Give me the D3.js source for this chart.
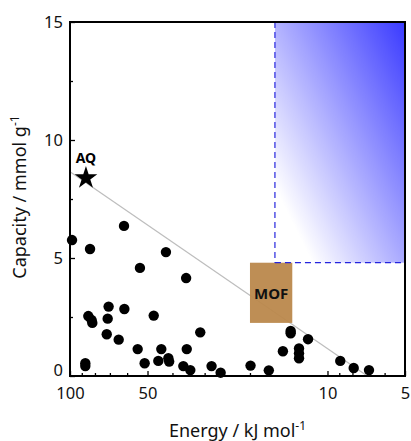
<!DOCTYPE html>
<html><head><meta charset="utf-8">
<script src="https://cdn.jsdelivr.net/npm/d3@7"></script>
<style>body{margin:0;background:#fff}svg{display:block}text{font-family:"Noto Sans",sans-serif}</style>
</head><body>
<svg id="c" width="411" height="441"></svg>
<script>
const energy = [98.2,83.6,61.7,42.4,53.5,35.4,84.9,82.4,81.9,70.8,71.4,61.5,47.3,72.0,64.7,54.6,44.2,35.2,31.2,87.2,87.2,51.3,45.4,41.5,41.2,36.3,34.1,28.2,26.0,13.9,13.9,11.9,14.9,12.9,12.9,12.9,19.9,16.9,8.92,7.91,6.90];
const capacity = [5.76,5.38,6.36,5.25,4.58,4.15,2.54,2.37,2.25,2.94,2.43,2.84,2.56,1.77,1.54,1.14,1.14,1.14,1.85,0.54,0.42,0.54,0.64,0.75,0.61,0.42,0.25,0.42,0.14,1.91,1.81,1.56,1.05,1.17,0.96,0.75,0.44,0.24,0.64,0.34,0.25];
const aq = {energy: 86.7, capacity: 8.39, label: "AQ"};
const trendE = [100, 7.0];
const trendC = [8.65, 0];
const mofE = [20, 13.7];
const mofC = [2.25, 4.8];
const targetE = [16, 5];
const targetC = [4.8, 15];
const xTicks = [100, 50, 10, 5];
const xMinor = [90, 80, 70, 60, 40, 30, 20, 9, 8, 7, 6];
const yTicks = [0, 5, 10, 15];
const yMinor = [2.5, 7.5, 12.5];

const svg = d3.select("#c");
const L = 70, R = 405, T = 22, B = 376;
const x = d3.scaleLog().domain([100, 5]).range([L, R]);
const y = d3.scaleLinear().domain([0, 15]).range([B, T]);

// target region gradient (diagonal, more horizontal than vertical)
const gx0 = x(targetE[0]), gy0 = y(targetC[0]);
const gx1 = x(targetE[1]), gy1 = y(targetC[1]);
const ux = 2 / Math.sqrt(5), uy = -1 / Math.sqrt(5);
const proj = (gx1 - gx0) * ux + (gy1 - gy0) * uy;
const defs = svg.append("defs");
const g = defs.append("linearGradient").attr("id", "grad").attr("gradientUnits", "userSpaceOnUse")
  .attr("x1", gx0).attr("y1", gy0).attr("x2", gx0 + proj * ux).attr("y2", gy0 + proj * uy);
g.append("stop").attr("offset", 0.15).attr("stop-color", "#ffffff");
g.append("stop").attr("offset", 1).attr("stop-color", "#3a3aff");

svg.append("rect").attr("x", gx0).attr("y", gy1)
  .attr("width", gx1 - gx0).attr("height", gy0 - gy1)
  .attr("fill", "url(#grad)");

// trend line
svg.append("line").attr("x1", x(trendE[0])).attr("y1", y(trendC[0]))
  .attr("x2", x(trendE[1])).attr("y2", y(trendC[1]))
  .attr("stroke", "#bdbdbd").attr("stroke-width", 1.2);

// MOF box
svg.append("rect").attr("x", x(mofE[0])).attr("y", y(mofC[1]))
  .attr("width", x(mofE[1]) - x(mofE[0])).attr("height", y(mofC[0]) - y(mofC[1]))
  .attr("fill", "#bb884c").attr("fill-opacity", 0.95);
svg.append("text").attr("x", (x(mofE[0]) + x(mofE[1])) / 2).attr("y", (y(mofC[0]) + y(mofC[1])) / 2)
  .attr("text-anchor", "middle").attr("dominant-baseline", "central")
  .attr("font-size", 15).attr("font-weight", "bold").attr("fill", "#111").text("MOF");

// dashed lines
svg.append("line").attr("x1", gx0).attr("y1", gy1).attr("x2", gx0).attr("y2", gy0)
  .attr("stroke", "#2525dd").attr("stroke-width", 1.2).attr("stroke-dasharray", "6,4");
svg.append("line").attr("x1", gx0).attr("y1", gy0).attr("x2", gx1).attr("y2", gy0)
  .attr("stroke", "#2525dd").attr("stroke-width", 1.2).attr("stroke-dasharray", "6,4");

// points
svg.append("g").selectAll("circle").data(energy.map((e, i) => [e, capacity[i]])).join("circle")
  .attr("cx", d => x(d[0])).attr("cy", d => y(d[1])).attr("r", 5.2).attr("fill", "#000");

// star
svg.append("path").attr("d", d3.symbol(d3.symbolStar, 160)())
  .attr("transform", `translate(${x(aq.energy)},${y(aq.capacity)})`).attr("fill", "#000");
svg.append("text").attr("x", x(aq.energy)).attr("y", y(aq.capacity) - 15)
  .attr("text-anchor", "middle").attr("font-size", 14).attr("font-weight", "bold").text(aq.label);

// axes
const ax = svg.append("g").attr("transform", `translate(0,${B})`)
  .call(d3.axisBottom(x).tickValues(xTicks).tickFormat(d3.format("d")).tickSize(-5).tickPadding(11));
const axm = svg.append("g").attr("transform", `translate(0,${B})`)
  .call(d3.axisBottom(x).tickValues(xMinor).tickFormat("").tickSize(-3));
const ay = svg.append("g").attr("transform", `translate(${L},0)`)
  .call(d3.axisLeft(y).tickValues(yTicks).tickSize(-5).tickPadding(7));
const aym = svg.append("g").attr("transform", `translate(${L},0)`)
  .call(d3.axisLeft(y).tickValues(yMinor).tickFormat("").tickSize(-3));
[ax, axm, ay, aym].forEach(a => {
  a.select(".domain").remove();
  a.selectAll("line").attr("stroke", "#000").attr("stroke-width", 1.3);
  a.selectAll("text").attr("font-size", 16.5).attr("fill", "#111").attr("font-family", "Noto Sans, sans-serif");
});
ay.selectAll(".tick text").filter(d => d === 0).attr("dy", "-0.05em");

// frame
svg.append("rect").attr("x", L).attr("y", T).attr("width", R - L).attr("height", B - T)
  .attr("fill", "none").attr("stroke", "#000").attr("stroke-width", 2);

// titles
const xt = svg.append("text").attr("x", (L + R) / 2).attr("y", 437).attr("text-anchor", "middle").attr("font-size", 18).attr("fill", "#111");
xt.append("tspan").text("Energy / kJ mol");
xt.append("tspan").attr("dy", -7).attr("font-size", 12).text("-1");
const yt = svg.append("text").attr("transform", `translate(26,${(T + B) / 2 - 2}) rotate(-90)`).attr("text-anchor", "middle").attr("font-size", 18).attr("fill", "#111");
yt.append("tspan").text("Capacity / mmol g");
yt.append("tspan").attr("dy", -7).attr("font-size", 12).text("-1");
</script>
</body></html>
